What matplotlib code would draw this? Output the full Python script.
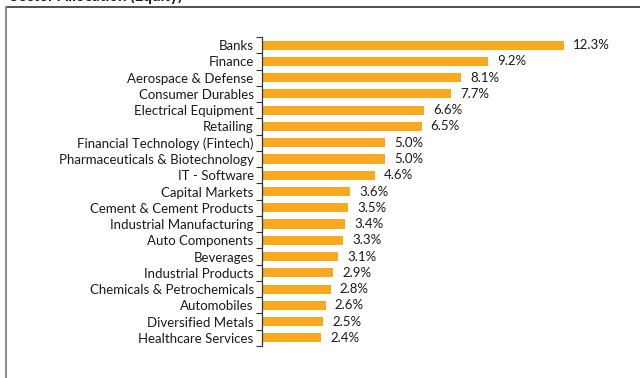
import matplotlib
matplotlib.use("Agg")
import matplotlib.pyplot as plt
from matplotlib.lines import Line2D

# Alocação setorial (parte de renda variável)
setores = [
    "Banks", "Finance", "Aerospace & Defense", "Consumer Durables",
    "Electrical Equipment", "Retailing", "Financial Technology (Fintech)",
    "Pharmaceuticals & Biotechnology", "IT - Software", "Capital Markets",
    "Cement & Cement Products", "Industrial Manufacturing", "Auto Components",
    "Beverages", "Industrial Products", "Chemicals & Petrochemicals",
    "Automobiles", "Diversified Metals", "Healthcare Services",
]
pesos = [12.3, 9.2, 8.1, 7.7, 6.6, 6.5, 5.0, 5.0, 4.6, 3.6,
         3.5, 3.4, 3.3, 3.1, 2.9, 2.8, 2.6, 2.5, 2.4]
rotulos = [f"{p:.1f}%" for p in pesos]

COR_BARRA = "#F8A91F"
COR_TEXTO = "#1a1a1a"
FONTE = "Lato"

W, H = 640, 378
fig = plt.figure(figsize=(W / 100, H / 100), dpi=100)

# eixo: esquerda em x=262 px, linhas entre y=37 e y=346 px
esq, dir_, topo, base = 262, 620, 37, 346
ax = fig.add_axes([esq / W, 1 - base / H, (dir_ - esq) / W, (base - topo) / H])

y = list(range(len(setores)))
ax.barh(y, pesos, height=0.56, color=COR_BARRA, edgecolor="none")
for yi, p, r in zip(y, pesos, rotulos):
    ax.text(p + 0.37, yi, r, va="center", ha="left", fontsize=9.5,
            color=COR_TEXTO, family=FONTE)

ax.set_xlim(0, (dir_ - esq) / 24.55)
ax.set_ylim(len(setores) - 0.5, -0.5)

ax.set_yticks(y)
ax.set_yticklabels(setores, fontsize=9.5, color=COR_TEXTO, family=FONTE)
ax.tick_params(axis="y", which="major", length=0, pad=6)
# marcas entre as categorias
ax.set_yticks([i - 0.5 for i in range(len(setores) + 1)], minor=True)
ax.tick_params(axis="y", which="minor", length=4, width=0.8, color="#333333")

ax.set_xticks([])
for lado in ["top", "right", "bottom"]:
    ax.spines[lado].set_visible(False)
ax.spines["left"].set_color("#333333")
ax.spines["left"].set_linewidth(0.9)

# moldura e título cortado no topo
fig.add_artist(Line2D([6 / W, 1], [1 - 7 / H, 1 - 7 / H], transform=fig.transFigure,
                      color="#333333", linewidth=1.2))
fig.add_artist(Line2D([6 / W, 6 / W], [0, 1 - 7 / H], transform=fig.transFigure,
                      color="#8c8c8c", linewidth=1.5))
fig.text(10 / W, 1 - 1 / H, "Sector Allocation (Equity)", fontsize=11,
         fontweight="bold", family=FONTE, color=COR_TEXTO, va="baseline")

fig.savefig("out.png", dpi=100)
